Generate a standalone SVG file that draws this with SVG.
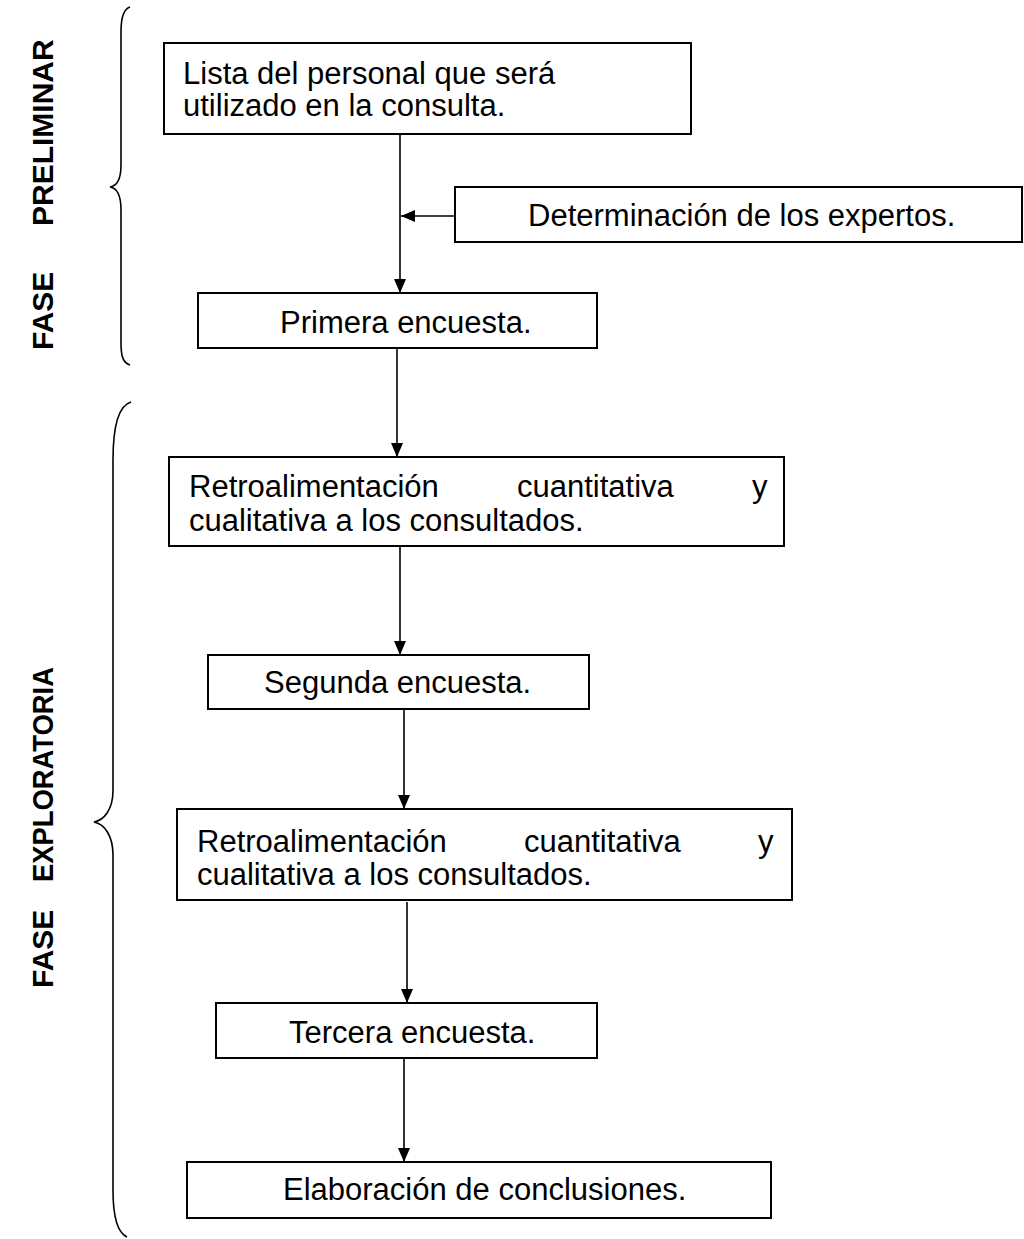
<svg xmlns="http://www.w3.org/2000/svg" width="1024" height="1239" viewBox="0 0 1024 1239">
<style>
.box{fill:#fff;stroke:#000;stroke-width:2}
.t{font-family:"Liberation Sans",Arial,sans-serif;font-size:31px;fill:#000}
.v{font-family:"Liberation Sans",Arial,sans-serif;font-size:30px;font-weight:bold;fill:#000}
.ln{stroke:#000;stroke-width:1.6;fill:none}
.br{stroke:#000;stroke-width:1.6;fill:none}
</style>
<defs>
<marker id="ah" markerUnits="userSpaceOnUse" markerWidth="14" markerHeight="14" viewBox="0 0 14 14" refX="14" refY="7" orient="auto">
<path d="M0,1 L14,7 L0,13 Z" fill="#000"/>
</marker>
</defs>
<rect width="1024" height="1239" fill="#fff"/>
<g id="braces">
<path class="br" d="M130,7 C123,9 121,20 121,32 L121,165 C121,180 117,186 110,187 C117,188 121,195 121,210 L121,343 C121,356 123,363 130,365"/>
<path class="br" d="M131,402 C117,406 113,430 113,460 L113,790 C113,810 104,820 94,822 C104,824 113,835 113,855 L113,1190 C113,1220 118,1233 127,1237"/>
</g>
<g id="label-preliminar">
<text class="v" transform="translate(53,350) rotate(-90)"><tspan x="0" y="0">FASE</tspan><tspan x="124" y="0">PRELIMINAR</tspan></text>
</g>
<g id="label-exploratoria">
<text class="v" transform="translate(53,988) rotate(-90)"><tspan x="0" y="0">FASE</tspan><tspan x="106" y="0" textLength="215" lengthAdjust="spacingAndGlyphs">EXPLORATORIA</tspan></text>
</g>
<g id="connectors">
<line class="ln" x1="400" y1="134" x2="400" y2="293" marker-end="url(#ah)"/>
<line class="ln" x1="455" y1="216" x2="401" y2="216" marker-end="url(#ah)"/>
<line class="ln" x1="397" y1="348" x2="397" y2="457" marker-end="url(#ah)"/>
<line class="ln" x1="400" y1="546" x2="400" y2="655" marker-end="url(#ah)"/>
<line class="ln" x1="404" y1="709" x2="404" y2="809" marker-end="url(#ah)"/>
<line class="ln" x1="407" y1="902" x2="407" y2="1003" marker-end="url(#ah)"/>
<line class="ln" x1="404" y1="1058" x2="404" y2="1162" marker-end="url(#ah)"/>
</g>
<g id="n1">
<rect class="box" x="164" y="43" width="527" height="91"/>
<text class="t" x="183" y="84">Lista del personal que será</text>
<text class="t" x="183" y="116">utilizado en la consulta.</text>
</g>
<g id="n2">
<rect class="box" x="455" y="187" width="567" height="55"/>
<text class="t" x="528" y="226">Determinación de los expertos.</text>
</g>
<g id="n3">
<rect class="box" x="198" y="293" width="399" height="55"/>
<text class="t" x="280" y="333">Primera encuesta.</text>
</g>
<g id="n4">
<rect class="box" x="169" y="457" width="615" height="89"/>
<text class="t" x="189" y="497">Retroalimentación</text>
<text class="t" x="517" y="497">cuantitativa</text>
<text class="t" x="752" y="497">y</text>
<text class="t" x="189" y="531">cualitativa a los consultados.</text>
</g>
<g id="n5">
<rect class="box" x="208" y="655" width="381" height="54"/>
<text class="t" x="264" y="693">Segunda encuesta.</text>
</g>
<g id="n6">
<rect class="box" x="177" y="809" width="615" height="91"/>
<text class="t" x="197" y="852">Retroalimentación</text>
<text class="t" x="524" y="852">cuantitativa</text>
<text class="t" x="758" y="852">y</text>
<text class="t" x="197" y="885">cualitativa a los consultados.</text>
</g>
<g id="n7">
<rect class="box" x="216" y="1003" width="381" height="55"/>
<text class="t" x="289" y="1043">Tercera encuesta.</text>
</g>
<g id="n8">
<rect class="box" x="187" y="1162" width="584" height="56"/>
<text class="t" x="283" y="1200">Elaboración de conclusiones.</text>
</g>
</svg>
